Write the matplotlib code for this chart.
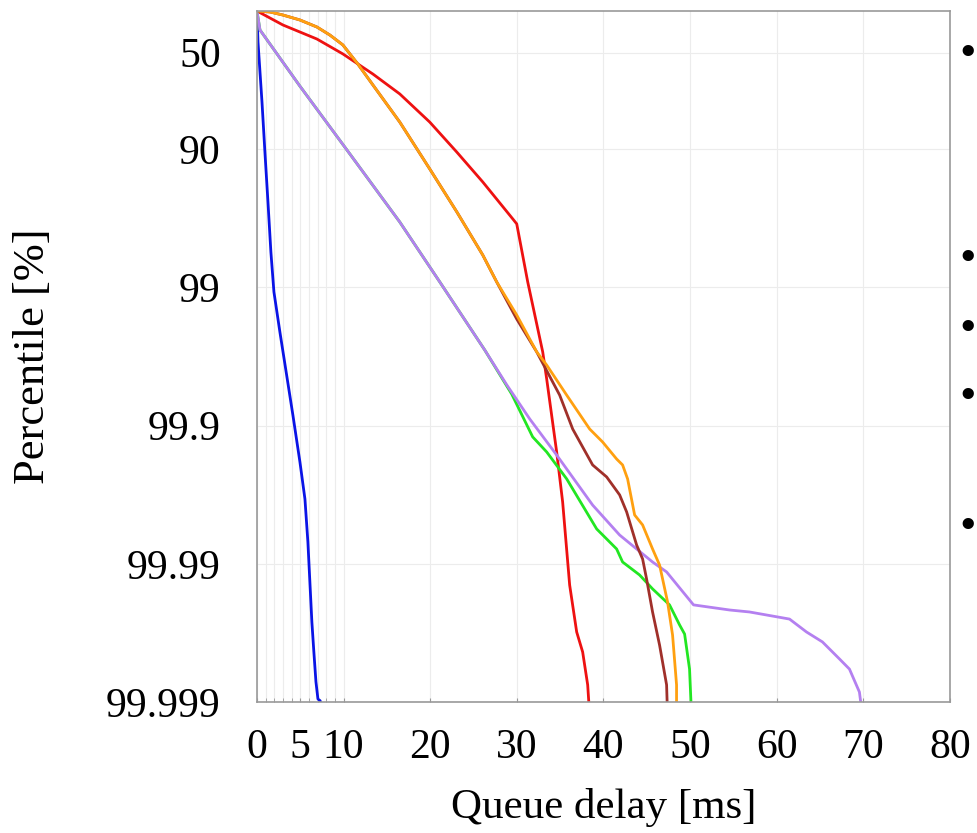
import numpy as np
import matplotlib.pyplot as plt

# queue delay [ms] vs percentile [%] for each run
blue_delay = [0, 0.12, 0.35, 0.58, 0.92, 1.27, 1.61, 1.96, 2.65, 3.46, 4.15, 4.96, 5.54, 5.88,
              6.11, 6.34, 6.57, 6.81, 7.04, 7.3, 7.6]
blue_pct = [0, 40.3, 63.8, 78.0, 90.47, 95.85, 98.20, 99.073, 99.525, 99.775, 99.881, 99.9454,
            99.9706, 99.9856, 99.99262, 99.99621, 99.99770, 99.99860, 99.99895, 99.99898, 99.9992]

red_delay = [0, 3.0, 6.92, 9.92, 13.38, 16.49, 19.95, 23.07, 26.07, 29.53, 29.99, 31.26, 32.99,
             33.45, 34.6, 35.29, 36.1, 36.91, 37.6, 38.18, 38.41]
red_pct = [0, 20.8, 37.3, 51.1, 65.0, 74.9, 84.3, 90.47, 94.21, 96.87, 97.12, 98.906, 99.659,
           99.783, 99.9356, 99.9720, 99.99299, 99.99679, 99.99770, 99.99867, 99.9992]

orange_delay = [0, 1.5, 3.0, 4.96, 6.92, 8.42, 9.92, 11.65, 13.38, 16.49, 19.95, 23.07, 26.07,
                27.68, 29.99, 32.3, 33.45, 35.76, 38.41, 39.91, 41.52, 42.21, 42.79, 43.6, 44.52,
                45.67, 46.48, 47.4, 47.98, 48.44, 48.44]
orange_pct = [0, 1.6, 6.5, 13.9, 23.4, 33.0, 43.2, 58.7, 70.8, 84.3, 92.81, 96.48, 98.286,
              98.906, 99.369, 99.659, 99.726, 99.834, 99.9056, 99.9240, 99.9427, 99.9481, 99.9589,
              99.97745, 99.98090, 99.98720, 99.99021, 99.99470, 99.99695, 99.99867, 99.9992]

brown_delay = [0, 1.5, 3.0, 4.96, 6.92, 8.42, 9.92, 11.65, 13.38, 16.49, 19.95, 23.07, 26.07,
               27.68, 29.99, 32.3, 34.95, 36.45, 38.75, 40.37, 41.87, 42.68, 43.83, 44.52, 44.98,
               45.67, 46.48, 47.29, 47.4]
brown_pct = [0, 1.6, 6.5, 13.9, 23.4, 33.0, 43.2, 58.7, 70.8, 84.3, 92.81, 96.48, 98.286,
             98.906, 99.410, 99.659, 99.834, 99.9056, 99.9481, 99.9575, 99.9685, 99.9763,
             99.98633, 99.98916, 99.99224, 99.99552, 99.99742, 99.99867, 99.9992]

green_delay = [0, 0.35, 4.96, 10.73, 16.49, 21.11, 26.3, 29.41, 31.83, 33.45, 35.76, 39.22,
               41.52, 42.21, 44.17, 45.67, 47.63, 48.79, 49.37, 49.94, 50.17]
green_pct = [0, 27.1, 71.4, 90.77, 97.03, 98.906, 99.648, 99.831, 99.9172, 99.9356, 99.9589,
             99.98214, 99.98720, 99.98970, 99.99170, 99.99342, 99.99496, 99.99639, 99.99690,
             99.99827, 99.9992]

purple_delay = [0, 0.35, 4.96, 10.73, 16.49, 21.11, 26.3, 28.84, 31.49, 34.6, 38.75, 41.87,
                45.67, 47.29, 50.4, 54.56, 56.86, 61.48, 63.44, 65.28, 67.24, 68.4, 69.55, 69.9]
purple_pct = [0, 27.1, 71.4, 90.77, 97.03, 98.906, 99.648, 99.803, 99.8883, 99.9388, 99.9734,
              99.98386, 99.98970, 99.99127, 99.99496, 99.99537, 99.99552, 99.99602, 99.99679,
              99.99728, 99.99795, 99.99827, 99.99882, 99.9992]

pct_ticks = [50, 90, 99, 99.9, 99.99, 99.999]
pct_labels = ["50", "90", "99", "99.9", "99.99", "99.999"]
delay_ticks = [0, 5, 10, 20, 30, 40, 50, 60, 70, 80]


def nines(p):
    p = np.clip(np.asarray(p, dtype=float), 0, 99.99999999)
    return -np.log10(1 - p / 100.0)


def nines_inv(y):
    return 100.0 * (1 - 10.0 ** (-np.asarray(y, dtype=float)))


plt.rcParams["font.family"] = ["Liberation Serif", "DejaVu Serif"]

fig = plt.figure(figsize=(9.77, 8.33), dpi=100)
ax = fig.add_axes([0.263, 0.1573, 0.7093, 0.8295])

lw = 2.0
ax.plot(blue_delay, blue_pct, color="#0a14e6", lw=lw)
ax.plot(red_delay, red_pct, color="#ee1111", lw=lw)
ax.plot(green_delay, green_pct, color="#22e622", lw=lw)
ax.plot(purple_delay, purple_pct, color="#b480f0", lw=lw)
ax.plot(brown_delay, brown_pct, color="#a0302a", lw=lw)
ax.plot(orange_delay, orange_pct, color="#ffa010", lw=lw)

ax.set_yscale("function", functions=(nines, nines_inv))
ax.set_ylim(99.999, 0)
ax.set_xlim(0, 80)

ax.set_yticks(pct_ticks)
ax.set_yticklabels(pct_labels)
ax.set_xticks(delay_ticks)
ax.set_xticks(np.arange(1, 10), minor=True)
ax.yaxis.set_minor_locator(plt.NullLocator())

ax.tick_params(axis="both", which="both", direction="in", labelsize=30, color="#999999")
ax.tick_params(axis="x", which="major", length=3, pad=19)
ax.tick_params(axis="x", which="minor", length=3)
ax.tick_params(axis="y", length=0, pad=26)

# faint grid
ax.grid(True, which="major", color="#ececec", lw=0.8)
ax.grid(True, which="minor", axis="x", color="#ececec", lw=0.8)
ax.set_axisbelow(True)
for s in ax.spines.values():
    s.set_color("#999999")
    s.set_linewidth(1.2)

ax.set_xlabel("Queue delay [ms]", fontsize=31, labelpad=15)
ax.set_ylabel("Percentile [%]", fontsize=32, labelpad=38)

# legend bullets (the legend text itself lies outside the image)
for yb in [55, 260, 330, 398, 528]:
    fig.text(968 / 977, 1 - yb / 833, "\u2022", fontsize=34, ha="center", va="center")

plt.savefig("out.png", dpi=100)
